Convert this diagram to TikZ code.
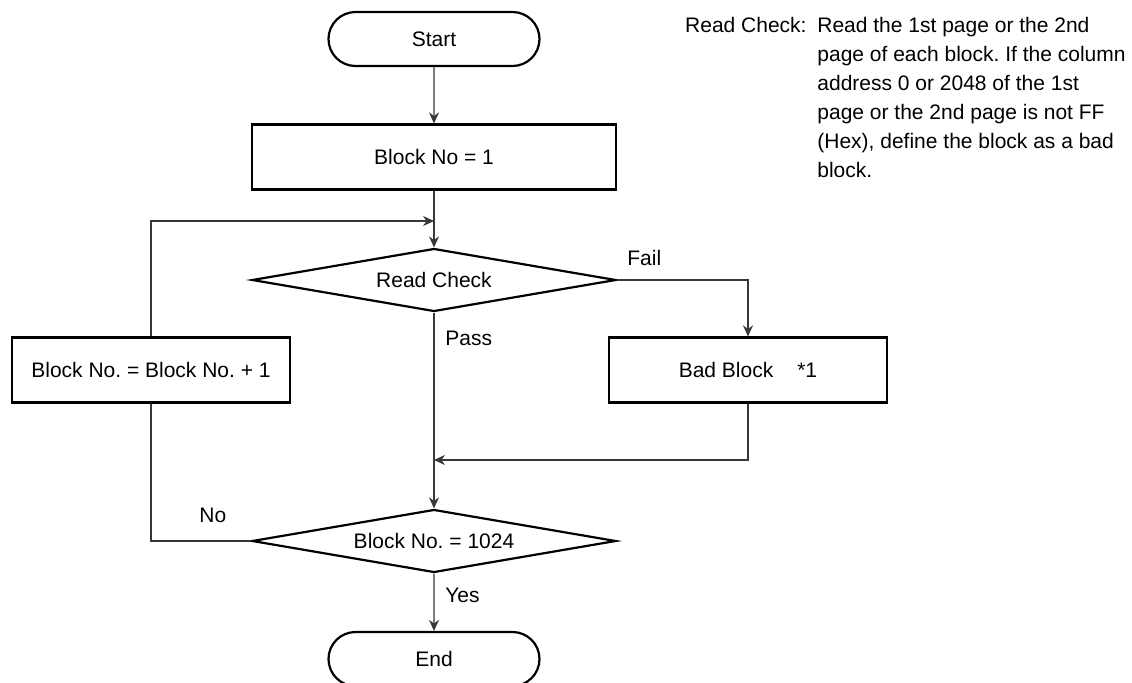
\documentclass[tikz,border=0pt]{standalone}
\usepackage{fontspec}
\setmainfont{Liberation Sans}
\usepackage{tikz}
\usetikzlibrary{arrows.meta,shapes.geometric,shapes.misc}
\definecolor{flink}{HTML}{000000}
\definecolor{flwire}{HTML}{383838}
\frenchspacing

\begin{document}
\begin{tikzpicture}[
      x=0.5pt, y=-0.5pt,
      every node/.style={font=\fontsize{10.5}{14.5}\selectfont},
      term/.style={draw=flink, line width=1.1pt, rounded rectangle, minimum width=107.5pt,
                   minimum height=27pt, inner sep=1pt},
      proc/.style={draw=flink, line width=1.1pt, minimum height=32.5pt},
      test/.style={draw=flink, line width=1.1pt, diamond, aspect=5, inner sep=0.5pt,
                   minimum width=182pt, minimum height=31.5pt},
      tag/.style={anchor=west, inner sep=0pt},
      arr/.style={-{Stealth[length=5.5pt, width=5pt, inset=1.8pt]}, line width=0.6pt, flwire},
      wire/.style={line width=0.6pt, flwire}]
    \useasboundingbox (0,0) rectangle (1132,682);
    \node[term] (start) at (434,39)  {Start};
    \node[proc, minimum width=182pt] (init) at (434,157) {Block No = 1};
    \node[test] (check) at (434,280) {Read Check};
    \node[proc, minimum width=139pt] (bad)  at (748,370) {Bad Block\hspace{12pt}*1};
    \node[proc, minimum width=139pt] (incr) at (151,370) {Block No. = Block No. + 1};
    \node[test] (last) at (434,541) {Block No. = 1024};
    \node[term] (end) at (434,659) {End};
    \coordinate (loopin) at (434,221);
    \coordinate (passin) at (434,460);
    % main line
    \draw[arr] (start) -- (init);
    \draw[arr] (init) -- (check);
    \draw[arr] (check) -- (last);
    \draw[arr] (last) -- (end);
    % branches
    \draw[arr] (check.east) -| (bad.north);
    \draw[arr] (bad.south) |- (passin);
    \draw[wire] (last.west) -| (incr.south);
    \draw[arr] (incr.north) |- (loopin);
    \node[tag] (fail) at (627,258) {Fail};
    \node[tag] (pass) at (445,338) {Pass};
    \node[tag] (no)   at (199,515) {No};
    \node[tag] (yes)  at (445,595) {Yes};
    % note
    \node[anchor=north west, align=left, inner sep=0pt] (note) at (817,17)
      {Read the 1st page or the 2nd\\
       page of each block. If the column\\
       address 0 or 2048 of the 1st\\
       page or the 2nd page is not FF\\
       (Hex), define the block as a bad\\
       block.};
    \node[anchor=north east, inner sep=0pt] (notehead) at (807,17) {Read Check:};
  \end{tikzpicture}
\end{document}
